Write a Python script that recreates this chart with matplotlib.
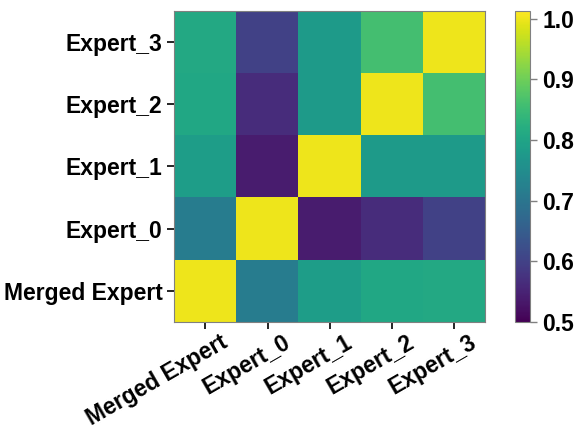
import numpy as np
import matplotlib.pyplot as plt
import matplotlib.transforms as mtransforms

plt.rcParams['font.family'] = ['Liberation Sans', 'DejaVu Sans']
plt.rcParams['font.weight'] = 'bold'

labels = ["Merged Expert", "Expert_0", "Expert_1", "Expert_2", "Expert_3"]

# similarity matrix, row 0 = Merged Expert (drawn at the bottom)
sim = np.array([
    [1.00, 0.715, 0.785, 0.805, 0.81],
    [0.715, 1.00, 0.54, 0.565, 0.60],
    [0.785, 0.54, 1.00, 0.78, 0.78],
    [0.805, 0.565, 0.78, 1.00, 0.86],
    [0.81, 0.60, 0.78, 0.86, 1.00],
])

fig = plt.figure(figsize=(5.81, 4.32), dpi=100)
ax = fig.add_axes([0.300, 0.255, 0.535, 0.720])
cax = fig.add_axes([0.886, 0.255, 0.027, 0.720])

im = ax.imshow(sim, cmap='viridis', vmin=0.5, vmax=1.013, origin='lower', aspect='auto')

ax.set_xticks(range(len(labels)))
ax.set_yticks(range(len(labels)))
ax.set_xticklabels(labels, rotation=30, ha='right', rotation_mode='anchor', fontsize=16.5, fontweight='bold')
ax.set_yticklabels(labels, fontsize=16.5, fontweight='bold')
ax.tick_params(length=5, width=1.2, color='black')
for s in ax.spines.values():
    s.set_color('gray')

# nudge rotated labels to the right of their ticks
shift = mtransforms.ScaledTranslation(15 / 100, 3 / 100, fig.dpi_scale_trans)
for t in ax.get_xticklabels():
    t.set_transform(t.get_transform() + shift)

cb = fig.colorbar(im, cax=cax)
cb.set_ticks([0.5, 0.6, 0.7, 0.8, 0.9, 1.0])
cb.ax.tick_params(labelsize=16.5, length=5, width=1, color='gray')
for t in cb.ax.get_yticklabels():
    t.set_fontweight('bold')
cb.outline.set_edgecolor('gray')

fig.savefig('out.png', dpi=100)
